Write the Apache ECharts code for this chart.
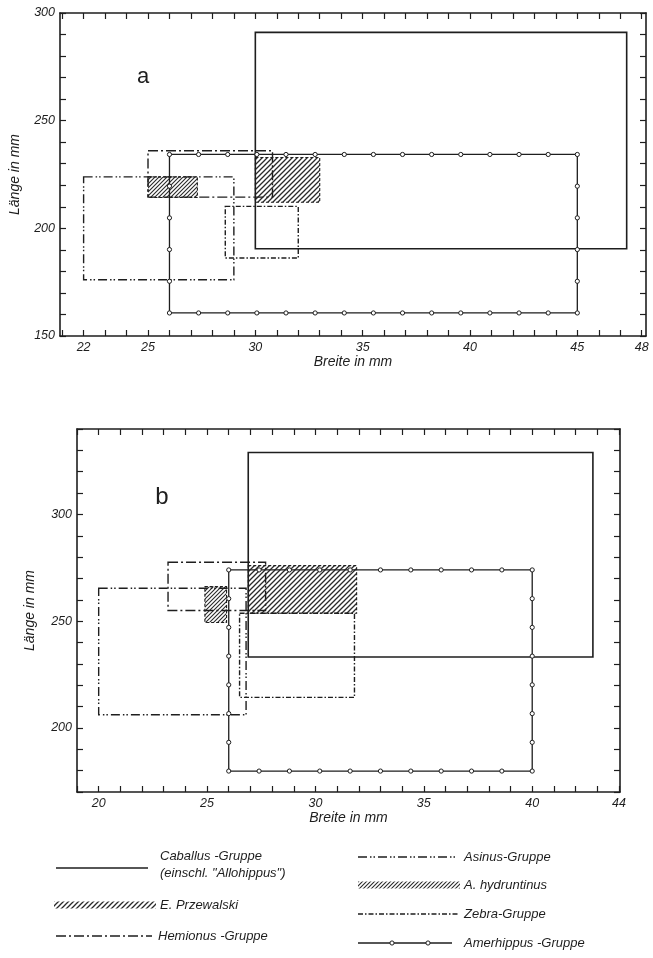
<!DOCTYPE html>
<html><head><meta charset="utf-8">
<script src="https://cdn.jsdelivr.net/npm/echarts@6/dist/echarts.min.js"></script>
<style>html,body{margin:0;padding:0;background:#fff}#c{width:653px;height:958px}</style>
</head><body><div id="c"></div>
<script>
// ---- data ----
const groups = ['Caballus -Gruppe', 'E. Przewalski', 'A. hydruntinus', 'Hemionus -Gruppe', 'Asinus-Gruppe', 'Zebra-Gruppe', 'Amerhippus -Gruppe'];
// chart a
const breiteMinA = [30.0, 30.0, 25.0, 25.0, 22.0, 28.6, 26.0];
const breiteMaxA = [47.3, 33.0, 27.3, 30.8, 29.0, 32.0, 45.0];
const laengeMinA = [190.5, 212.1, 214.3, 214.5, 176.1, 186.2, 160.7];
const laengeMaxA = [291.0, 232.9, 223.9, 236.0, 223.9, 210.2, 234.3];
// chart b
const breiteMinB = [26.9, 26.9, 24.9, 23.2, 20.0, 26.5, 26.0];
const breiteMaxB = [42.8, 31.9, 25.9, 27.7, 26.8, 31.8, 40.0];
const laengeMinB = [233.2, 253.7, 249.4, 255.0, 206.2, 214.3, 179.8];
const laengeMaxB = [329.0, 276.0, 266.2, 277.6, 265.4, 253.7, 274.0];
// tick labels
const xLabelsA = [22, 25, 30, 35, 40, 45, 48];
const yLabelsA = [150, 200, 250, 300];
const xLabelsB = [20, 25, 30, 35, 40, 44];
const yLabelsB = [200, 250, 300];

// ---- styles ----
const INK = '#1e1e1e';
const FONT = 'Liberation Sans';
const kinds = ['solid', 'hatchP', 'hatchH', 'hemionus', 'asinus', 'zebra', 'amer'];
const dashes = {
  hemionus: [10, 3, 2, 3],
  asinus: [9, 3, 1.5, 2, 1.5, 3],
  zebra: [5, 2, 1.5, 2]
};
function makeHatch(s, lw) {
  const c = document.createElement('canvas');
  c.width = s; c.height = s;
  const ctx = c.getContext('2d');
  ctx.strokeStyle = '#2a2a2a'; ctx.lineWidth = lw;
  ctx.beginPath();
  ctx.moveTo(-1, 1); ctx.lineTo(1, -1);
  ctx.moveTo(0, s); ctx.lineTo(s, 0);
  ctx.moveTo(s - 1, s + 1); ctx.lineTo(s + 1, s - 1);
  ctx.stroke();
  return c;
}
const hatchP = makeHatch(5, 1.3);
const hatchH = makeHatch(4, 1.1);

function amerChildren(x, y, w, h) {
  const ch = [{type: 'rect', shape: {x, y, width: w, height: h}, style: {fill: 'none', stroke: INK, lineWidth: 1.3}}];
  const corners = [[x, y], [x + w, y], [x + w, y + h], [x, y + h]];
  for (let k = 0; k < 4; k++) {
    const p = corners[k], q = corners[(k + 1) % 4];
    const len = Math.hypot(q[0] - p[0], q[1] - p[1]);
    const n = Math.max(1, Math.round(len / 30));
    for (let j = 0; j < n; j++) {
      const t = j / n;
      ch.push({type: 'circle', shape: {cx: p[0] + (q[0] - p[0]) * t, cy: p[1] + (q[1] - p[1]) * t, r: 2.1},
        style: {fill: '#fff', stroke: INK, lineWidth: 1}});
    }
  }
  return ch;
}

function makeRender(kind) {
  return function (params, api) {
    const a = api.coord([api.value(0), api.value(1)]);
    const b = api.coord([api.value(2), api.value(3)]);
    const x = Math.min(a[0], b[0]), y = Math.min(a[1], b[1]);
    const w = Math.abs(b[0] - a[0]), h = Math.abs(b[1] - a[1]);
    if (kind === 'amer') return {type: 'group', children: amerChildren(x, y, w, h)};
    if (kind === 'hatchP' || kind === 'hatchH') {
      return {type: 'rect', shape: {x, y, width: w, height: h},
        style: {fill: {image: kind === 'hatchP' ? hatchP : hatchH, repeat: 'repeat'}, stroke: INK, lineWidth: 1.1, lineDash: [3, 2]}};
    }
    return {type: 'rect', shape: {x, y, width: w, height: h},
      style: {fill: 'none', stroke: INK, lineWidth: kind === 'solid' ? 1.6 : 1.4, lineDash: kind === 'solid' ? null : dashes[kind]}};
  };
}

const lineStyle = {color: INK, width: 1.6};
const tickStyle = {color: INK, width: 1.2};
const labelStyle = {color: INK, fontStyle: 'italic', fontFamily: FONT, fontSize: 12.5};
const nameStyle = {color: INK, fontStyle: 'italic', fontFamily: FONT, fontSize: 14};

function intRange(a, b) { const r = []; for (let v = Math.ceil(a); v <= Math.floor(b); v++) r.push(v); return r; }
function tenRange(a, b) { const r = []; for (let v = a; v <= b; v += 10) r.push(v); return r; }

function xAxes(gi, min, max, labels, gap) {
  const ticks = intRange(min, max);
  return [
    {gridIndex: gi, type: 'value', position: 'bottom', min, max,
      axisLine: {onZero: false, lineStyle}, axisTick: {inside: true, length: 6, customValues: ticks, lineStyle: tickStyle},
      axisLabel: Object.assign({customValues: labels, margin: 5}, labelStyle), splitLine: {show: false},
      name: 'Breite in mm', nameLocation: 'middle', nameGap: gap, nameTextStyle: nameStyle},
    {gridIndex: gi, type: 'value', position: 'top', min, max,
      axisLine: {onZero: false, lineStyle}, axisTick: {inside: true, length: 6, customValues: ticks, lineStyle: tickStyle},
      axisLabel: {show: false}, splitLine: {show: false}}
  ];
}
function yAxes(gi, min, max, labels, gap) {
  const ticks = tenRange(min, max);
  return [
    {gridIndex: gi, type: 'value', position: 'left', min, max, interval: 10,
      axisLine: {onZero: false, lineStyle}, axisTick: {inside: true, length: 6, customValues: ticks, lineStyle: tickStyle},
      axisLabel: Object.assign({customValues: labels, margin: 5}, labelStyle), splitLine: {show: false},
      name: 'Länge in mm', nameLocation: 'middle', nameGap: gap, nameTextStyle: nameStyle},
    {gridIndex: gi, type: 'value', position: 'right', min, max, interval: 10,
      axisLine: {onZero: false, lineStyle}, axisTick: {inside: true, length: 6, customValues: ticks, lineStyle: tickStyle},
      axisLabel: {show: false}, splitLine: {show: false}}
  ];
}

const series = [];
function addSeries(xi, yi, bmin, bmax, lmin, lmax) {
  groups.forEach((g, i) => {
    series.push({type: 'custom', name: g, xAxisIndex: xi, yAxisIndex: yi, silent: true, animation: false,
      renderItem: makeRender(kinds[i]), encode: {x: [0, 2], y: [1, 3]},
      data: [[bmin[i], lmin[i], bmax[i], lmax[i]]]});
  });
}
addSeries(0, 0, breiteMinA, breiteMaxA, laengeMinA, laengeMaxA);
addSeries(2, 2, breiteMinB, breiteMaxB, laengeMinB, laengeMaxB);

// ---- legend (graphic) ----
const legTxt = {fill: INK, fontStyle: 'italic', fontFamily: FONT, fontSize: 13};
function legLine(x1, x2, y, dash) {
  return {type: 'line', shape: {x1, y1: y, x2, y2: y}, style: {stroke: INK, lineWidth: 1.5, lineDash: dash || null}};
}
function legText(x, y, t) {
  return {type: 'text', x, y, style: Object.assign({text: t, verticalAlign: 'middle', align: 'left'}, legTxt)};
}
function legHatch(x1, x2, y, img) {
  return {type: 'rect', shape: {x: x1, y: y - 3.5, width: x2 - x1, height: 7}, style: {fill: {image: img, repeat: 'repeat'}}};
}
const graphic = [
  {type: 'text', x: 143, y: 77, style: {text: 'a', fontSize: 22, fontFamily: FONT, fill: INK, align: 'center', verticalAlign: 'middle'}},
  {type: 'text', x: 162, y: 497, style: {text: 'b', fontSize: 24, fontFamily: FONT, fill: INK, align: 'center', verticalAlign: 'middle'}},
  legLine(56, 148, 868),
  legText(160, 856, groups[0]),
  legText(160, 873, '(einschl. "Allohippus")'),
  legHatch(54, 156, 905, hatchP),
  legText(160, 905, groups[1]),
  legLine(56, 152, 936, dashes.hemionus),
  legText(158, 936, groups[3]),
  legLine(358, 458, 857, dashes.asinus),
  legText(464, 857, groups[4]),
  legHatch(358, 460, 885, hatchH),
  legText(464, 885, groups[2]),
  legLine(358, 458, 914, dashes.zebra),
  legText(464, 914, groups[5]),
  legLine(358, 452, 943),
  {type: 'circle', shape: {cx: 392, cy: 943, r: 2.1}, style: {fill: '#fff', stroke: INK, lineWidth: 1}},
  {type: 'circle', shape: {cx: 428, cy: 943, r: 2.1}, style: {fill: '#fff', stroke: INK, lineWidth: 1}},
  legText(464, 943, groups[6])
];

const chart = echarts.init(document.getElementById('c'), null, {renderer: 'canvas'});
chart.setOption({
  backgroundColor: '#fff',
  animation: false,
  grid: [
    {left: 55, right: 7, top: 13, height: 323},
    {left: 77, right: 33, top: 429, height: 363}
  ],
  xAxis: [].concat(xAxes(0, 20.9, 48.2, xLabelsA, 16), xAxes(1, 19.0, 44.05, xLabelsB, 18)),
  yAxis: [].concat(yAxes(0, 150, 300, yLabelsA, 38), yAxes(1, 170, 340, yLabelsB, 40)),
  series,
  graphic
});
</script>
</body></html>
